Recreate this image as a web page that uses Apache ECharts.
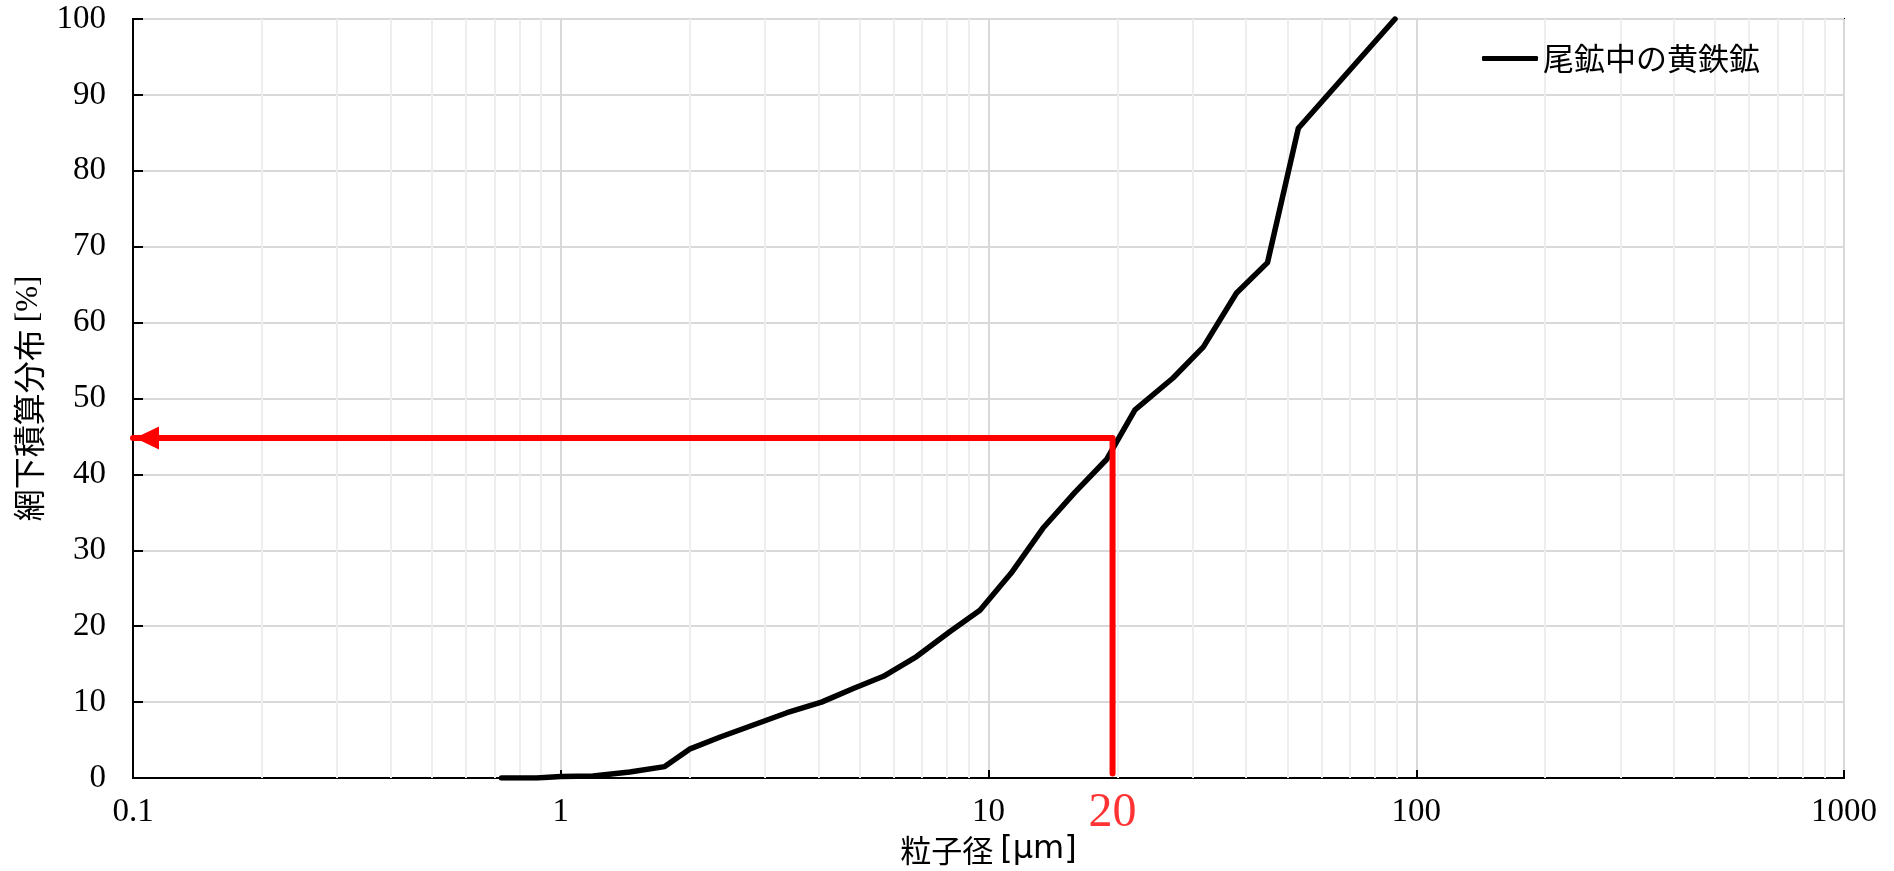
<!DOCTYPE html>
<html>
<head>
<meta charset="utf-8">
<script src="https://cdn.jsdelivr.net/npm/echarts@6/dist/echarts.min.js"></script>
<style>
html,body{margin:0;padding:0;background:#fff;}
#chart{width:1894px;height:871px;}
</style>
</head>
<body>
<div id="chart"></div>
<script>
// ---- data ----
const seriesName = '尾鉱中の黄鉄鉱';
const particleSize = [0.727, 0.878, 1.0, 1.19, 1.45, 1.75, 2.0, 2.36, 3.38, 4.07, 4.83, 5.68, 6.79, 8.13, 9.55, 11.3, 13.4, 15.9, 18.9, 22.0, 27.0, 31.8, 38.0, 44.9, 53.0, 89.2];
const cumulative   = [0.0,   0.0,   0.2, 0.25, 0.8, 1.5, 3.8, 5.4, 8.6, 10.0, 11.8, 13.4, 16.0, 19.3, 22.1, 27.0, 32.9, 37.6, 42.0, 48.5, 52.7, 56.8, 63.9, 67.9, 85.6, 100.0];
const guideX = [0.1, 19.5, 19.5];
const guideY = [44.8, 44.8, 0.6];
const guideLabel = '20';
const minorGridValues = [0.2,0.3,0.4,0.5,0.6,0.7,0.8,0.9, 2,3,4,5,6,7,8,9, 20,30,40,50,60,70,80,90, 200,300,400,500,600,700,800,900];
const xMin = 0.1, xMax = 1000, yMin = 0, yMax = 100, yStep = 10;
const xAxisNameMain = '粒子径 ';
const xAxisNameUnit = '[μm]';
const yAxisNameMain = '網下積算分布 ';
const yAxisNameUnit = '[%]';

const serif = 'Liberation Serif';
const sans = 'Noto Sans CJK JP';

const chart = echarts.init(document.getElementById('chart'), null, {renderer:'canvas'});

const curveData = particleSize.map((x, i) => [x, cumulative[i]]);
const guideData = guideX.map((x, i) => {
  if (i === 0) {
    return {value:[x, guideY[i]], symbol:'triangle', symbolSize:[23,24], symbolRotate:90, symbolOffset:[14,0]};
  }
  return {value:[x, guideY[i]], symbol:'none'};
});

const option = {
  backgroundColor:'#fff',
  animation:false,
  grid:{left:133, right:50, top:19, bottom:93, show:true, borderColor:'#000', borderWidth:2, backgroundColor:'transparent'},
  legend:{
    show:true, left:1477, top:38, itemWidth:56, itemHeight:5, itemGap:10,
    icon:'roundRect',
    itemStyle:{color:'#000', borderWidth:0},
    textStyle:{fontFamily:sans, fontSize:31, color:'#000'},
    data:[seriesName],
    selectedMode:false
  },
  xAxis:{
    type:'log', logBase:10, min:xMin, max:xMax,
    name:'{a|' + xAxisNameMain + '}{b|' + xAxisNameUnit + '}', nameLocation:'middle', nameGap:55,
    nameTextStyle:{fontFamily:sans, fontSize:31, color:'#000',
      rich:{a:{fontFamily:sans, fontSize:31, color:'#000'}, b:{fontFamily:'DejaVu Sans', fontSize:32, color:'#000'}}},
    axisLine:{show:true, onZero:false, lineStyle:{color:'#000', width:2}},
    axisTick:{show:true, inside:true, length:8, lineStyle:{color:'#000', width:2}},
    axisLabel:{fontFamily:serif, fontSize:33, color:'#000', margin:18,
      formatter:v => String(parseFloat(Number(v).toPrecision(4)))},
    splitLine:{show:true, lineStyle:{color:'#d9d9d9', width:2}},
    minorTick:{show:false}
  },
  yAxis:{
    type:'value', min:yMin, max:yMax, interval:yStep,
    name:'{a|' + yAxisNameMain + '}{b|' + yAxisNameUnit + '}', nameLocation:'middle', nameGap:88,
    nameTextStyle:{fontFamily:sans, fontSize:32, color:'#000',
      rich:{a:{fontFamily:sans, fontSize:32, color:'#000'}, b:{fontFamily:serif, fontSize:31, color:'#000'}}},
    axisLine:{show:true, lineStyle:{color:'#000', width:2}},
    axisTick:{show:true, inside:true, length:10, lineStyle:{color:'#000', width:2}},
    axisLabel:{fontFamily:serif, fontSize:33, color:'#000', margin:27},
    splitLine:{show:true, lineStyle:{color:'#d9d9d9', width:2}}
  },
  series:[
    {
      type:'line', name:'minorGrid', data:[], silent:true, z:1,
      markLine:{
        silent:true, symbol:'none', animation:false, z:1,
        label:{show:false},
        lineStyle:{color:'#eeeeee', width:2, type:'solid'},
        emphasis:{disabled:true},
        data:minorGridValues.map(v => ({xAxis:v}))
      }
    },
    {
      type:'line', name:seriesName, data:curveData, z:6,
      showSymbol:false, symbol:'none', smooth:false,
      lineStyle:{color:'#000', width:5.5, cap:'round', join:'round'},
      itemStyle:{color:'#000'}
    },
    {
      type:'line', name:'guide', data:guideData, z:7, clip:false,
      showSymbol:true, symbol:'none',
      lineStyle:{color:'#ff0000', width:6, cap:'round', join:'round'},
      itemStyle:{color:'#ff0000'}
    },
    {
      type:'scatter', name:'guideLabel', data:[[guideX[1], yMin]], z:8, symbolSize:0.1, clip:false,
      itemStyle:{color:'rgba(0,0,0,0)'},
      label:{show:true, position:'bottom', distance:11, formatter:guideLabel,
        fontFamily:serif, fontSize:48, color:'#ff0000'}
    }
  ]
};
chart.setOption(option);
</script>
</body>
</html>
